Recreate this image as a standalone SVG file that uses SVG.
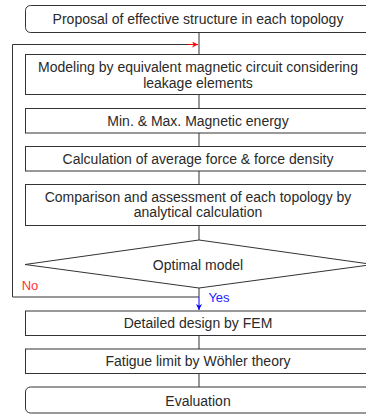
<svg xmlns="http://www.w3.org/2000/svg" width="366" height="415" viewBox="0 0 366 415">
<style>
.box{fill:#fff;stroke:#333;stroke-width:1}
.ln{fill:none;stroke:#333;stroke-width:1}
text{font-family:"Liberation Sans",Arial,sans-serif;font-size:14px;fill:#2a2a2a;text-anchor:middle;dominant-baseline:central}
.lb{font-size:13px}
</style>
<defs>
<marker id="ar" viewBox="0 0 10 10" refX="10" refY="5" markerWidth="8" markerHeight="6" orient="auto" markerUnits="userSpaceOnUse"><path d="M0,0 L10,5 L0,10 L3,5 z" fill="#f00"/></marker>
<marker id="ab" viewBox="0 0 10 10" refX="10" refY="5" markerWidth="9" markerHeight="6" orient="auto" markerUnits="userSpaceOnUse"><path d="M0,0 L10,5 L0,10 L3,5 z" fill="#00f"/></marker>
</defs>
<rect width="366" height="415" fill="#fff"/>
<g id="connectors">
<line class="ln" x1="199" y1="32" x2="199" y2="54"/>
<line class="ln" x1="199" y1="94" x2="199" y2="108"/>
<line class="ln" x1="199" y1="133" x2="199" y2="146"/>
<line class="ln" x1="199" y1="171" x2="199" y2="184"/>
<line class="ln" x1="199" y1="226" x2="199" y2="240"/>
<line class="ln" x1="199" y1="288" x2="199" y2="297"/>
<polyline class="ln" points="199,297 12.5,297 12.5,44.5 190,44.5"/>
<line x1="188" y1="44.5" x2="198" y2="44.5" stroke="#f00" stroke-width="1" marker-end="url(#ar)"/>
<line x1="199" y1="297" x2="199" y2="310" stroke="#00f" stroke-width="1" marker-end="url(#ab)"/>
<line class="ln" x1="199" y1="335" x2="199" y2="349"/>
<line class="ln" x1="199" y1="373" x2="199" y2="387"/>
<text class="lb" x="30" y="285" style="fill:#f33">No</text>
<text class="lb" x="219" y="297" style="fill:#22f">Yes</text>
</g>
<g id="n1"><rect class="box" x="25.5" y="5.5" width="348" height="27" rx="5"/><text x="198" y="19">Proposal of effective structure  in each topology</text></g>
<g id="n2"><rect class="box" x="25.5" y="54.5" width="348" height="40"/><text x="198" y="67">Modeling by equivalent  magnetic circuit considering</text><text x="198" y="82.5">leakage elements</text></g>
<g id="n3"><rect class="box" x="25.5" y="108.5" width="348" height="24.5"/><text x="198" y="121">Min. &amp; Max. Magnetic energy</text></g>
<g id="n4"><rect class="box" x="25.5" y="146.5" width="348" height="24.5"/><text x="198" y="159">Calculation of average force &amp; force density</text></g>
<g id="n5"><rect class="box" x="25.5" y="184.5" width="348" height="41"/><text x="198" y="197">Comparison and assessment of each topology by</text><text x="198" y="212">analytical  calculation</text></g>
<g id="n6"><polygon class="box" points="199,240 373,264.5 199,288 25,264.5"/><text x="198" y="265">Optimal model</text></g>
<g id="n7"><rect class="box" x="25.5" y="311" width="348" height="24.5"/><text x="198" y="323">Detailed design by FEM</text></g>
<g id="n8"><rect class="box" x="25.5" y="349" width="348" height="24.5"/><text x="198" y="361">Fatigue limit by Wöhler theory</text></g>
<g id="n9"><rect class="box" x="25.5" y="387" width="348" height="26" rx="5"/><text x="198" y="400.5">Evaluation</text></g>
</svg>
